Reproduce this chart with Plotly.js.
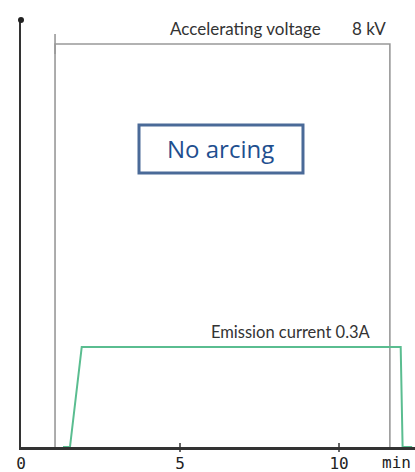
<!DOCTYPE html>
<html><head><meta charset="utf-8">
<script src="https://cdn.plot.ly/plotly-3.0.1.min.js"></script>
<style>html,body{margin:0;padding:0;background:#fff}#c{width:415px;height:472px}</style>
</head><body><div id="c"></div>
<script>
// Accelerating voltage trace (minutes, kV)
const voltageTime = [1.07, 1.07, 11.6, 11.6];
const voltageKV = [0, 8, 8, 0];
// Emission current trace (minutes, A)
const currentTime = [1.32, 1.54, 1.91, 11.94, 12.0, 12.3];
const currentA = [0, 0, 0.3, 0.3, 0, 0];
// Tick labels
const tickVals = [0, 5, 10];
const tickText = ['0', '5', '10'];

const traces = [
  {x: voltageTime, y: voltageKV, type: 'scatter', mode: 'lines',
   line: {color: '#999999', width: 1.6}, hoverinfo: 'skip', showlegend: false},
  {x: currentTime, y: currentA, type: 'scatter', mode: 'lines', yaxis: 'y2',
   line: {color: '#5abd90', width: 2}, hoverinfo: 'skip', showlegend: false}
];

const labelFont = {family: 'Lato', size: 17, color: '#333333'};

const layout = {
  width: 415, height: 472,
  margin: {l: 21, r: 0, t: 20, b: 25},
  paper_bgcolor: '#fff', plot_bgcolor: '#fff',
  showlegend: false,
  xaxis: {range: [0, 12.39], showgrid: false, zeroline: false,
          showline: true, linecolor: '#333', linewidth: 2.5,
          tickvals: tickVals, ticktext: tickText, ticks: '', ticklabelstandoff: 0,
          tickfont: {family: 'DejaVu Sans Mono', size: 16, color: '#222'}},
  yaxis: {range: [0, 8.476], showgrid: false, zeroline: false,
          showline: true, linecolor: '#333', linewidth: 2.5,
          showticklabels: false, ticks: ''},
  yaxis2: {range: [0, 1.281], overlaying: 'y', visible: false},
  shapes: [
    {type: 'circle', xref: 'paper', yref: 'paper', xsizemode: 'pixel', ysizemode: 'pixel',
     xanchor: 0, yanchor: 1, x0: -3, x1: 3, y0: -3, y1: 3,
     fillcolor: '#222', line: {width: 0}},
    {type: 'line', xref: 'x', yref: 'paper', ysizemode: 'pixel', yanchor: 0,
     x0: 5, x1: 5, y0: -5, y1: 4, line: {color: '#333', width: 1.5}},
    {type: 'line', xref: 'x', yref: 'paper', ysizemode: 'pixel', yanchor: 0,
     x0: 10, x1: 10, y0: -5, y1: 4, line: {color: '#333', width: 1.5}},
    {type: 'line', xref: 'x', yref: 'y', x0: 1.07, x1: 1.07, y0: 7.8, y1: 8.2,
     line: {color: '#999999', width: 1.6}},
    {type: 'rect', xref: 'paper', yref: 'paper', x0: 0.2995, x1: 0.7157, y0: 0.6417, y1: 0.754,
     line: {color: '#4a6a98', width: 3}, fillcolor: 'rgba(0,0,0,0)'}
  ],
  annotations: [
    {text: 'Accelerating voltage', xref: 'x', yref: 'y', x: 9.5, y: 8.05,
     xanchor: 'right', yanchor: 'bottom', showarrow: false, font: labelFont},
    {text: '8 kV', xref: 'x', yref: 'y', x: 11.53, y: 8.05,
     xanchor: 'right', yanchor: 'bottom', showarrow: false, font: labelFont},
    {text: 'Emission current 0.3A', xref: 'x', yref: 'y2', x: 11.07, y: 0.31,
     xanchor: 'right', yanchor: 'bottom', showarrow: false,
     font: {family: 'Lato', size: 16.5, color: '#333333'}},
    {text: 'No arcing', xref: 'paper', yref: 'paper', x: 0.5076, y: 0.698,
     xanchor: 'center', yanchor: 'middle', showarrow: false,
     font: {family: 'Open Sans', size: 24, color: '#1f4f8f'}},
    {text: 'min', xref: 'paper', yref: 'paper', x: 1, y: 0, xanchor: 'right', yanchor: 'middle',
     xshift: -2, yshift: -15, showarrow: false,
     font: {family: 'DejaVu Sans Mono', size: 16, color: '#222'}}
  ]
};
Plotly.newPlot('c', traces, layout, {staticPlot: true, displayModeBar: false});
</script></body></html>
